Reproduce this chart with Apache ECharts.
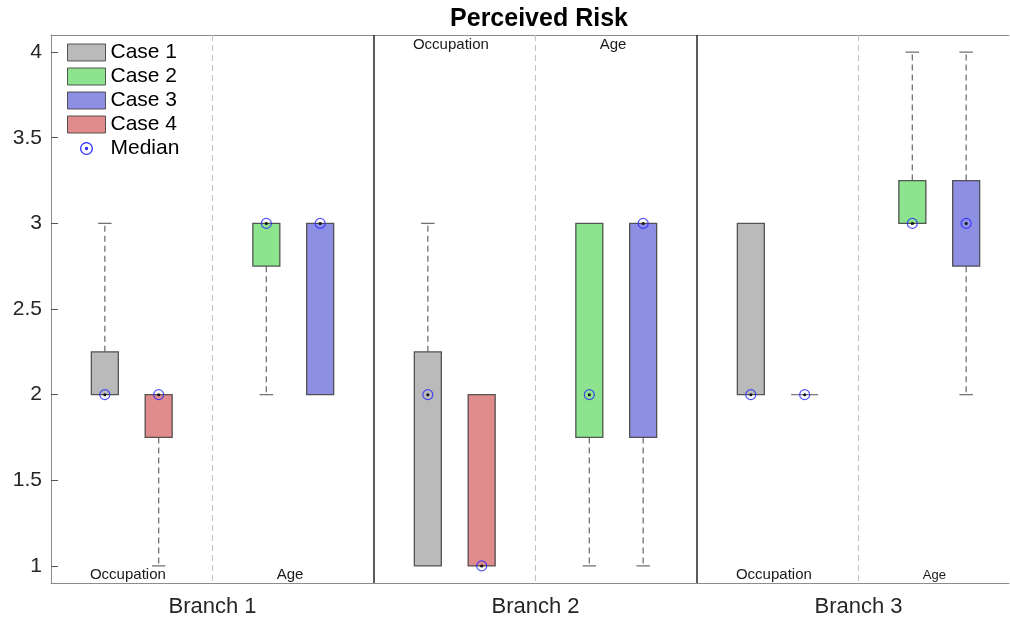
<!DOCTYPE html>
<html>
<head>
<meta charset="utf-8">
<script src="https://cdn.jsdelivr.net/npm/echarts@6/dist/echarts.min.js"></script>
<style>
  html, body { margin: 0; padding: 0; background: #fff; }
  #chart { width: 1010px; height: 621px; }
</style>
</head>
<body>
<div id="chart"></div>
<script>
// Branch names along the x axis and the two groupings inside each branch
const branches = ['Branch 1', 'Branch 2', 'Branch 3'];
const groupLabels = ['Occupation', 'Age'];
const yTicks = [1, 1.5, 2, 2.5, 3, 3.5, 4];

// Box statistics per branch: [min, q1, median, q3, max]
const case1 = [[2, 2, 2, 2.25, 3], [1, 1, 2, 2.25, 3], [2, 2, 2, 3, 3]];       // Occupation
const case4 = [[1, 1.75, 2, 2, 2], [1, 1, 1, 2, 2], [2, 2, 2, 2, 2]];          // Occupation
const case2 = [[2, 2.75, 3, 3, 3], [1, 1.75, 2, 3, 3], [3, 3, 3, 3.25, 4]];    // Age
const case3 = [[2, 2, 3, 3, 3], [1, 1.75, 3, 3, 3], [2, 2.75, 3, 3.25, 4]];    // Age

const FONT = '"Liberation Sans", Arial, Helvetica, sans-serif';
const BOX_W = 0.0836;          // box width in x-axis units
const EDGE = 'rgba(65,65,65,0.88)';
const WHISKER = 'rgba(90,90,90,0.85)';
// axes box runs past the right edge of the canvas: 323 px per branch
const GRID_LEFT = 51, GRID_W = 958, BRANCH_PX = 323;
const X_MIN = 0.5, X_MAX = X_MIN + GRID_W / BRANCH_PX;

// slot of each case inside a branch (left half: Occupation, right half: Age)
const cases = [
  { name: 'Case 1', values: case1, offset: -1 / 3, color: '#bababa' },
  { name: 'Case 2', values: case2, offset: 1 / 6, color: '#8ee38e' },
  { name: 'Case 3', values: case3, offset: 1 / 3, color: '#8e8ee3' },
  { name: 'Case 4', values: case4, offset: -1 / 6, color: '#e08c8c' }
];

function boxSeries(c) {
  return {
    type: 'custom',
    name: c.name,
    coordinateSystem: 'cartesian2d',
    itemStyle: { color: c.color, borderColor: EDGE, borderWidth: 1 },
    encode: { x: 0, y: [1, 2, 3, 4, 5] },
    data: c.values.map((v, i) => [i + 1 + c.offset].concat(v)),
    z: 3,
    renderItem(params, api) {
      const x = api.value(0);
      const mn = api.value(1), q1 = api.value(2), q3 = api.value(4), mx = api.value(5);
      const half = api.size([BOX_W, 0])[0] / 2;
      const cap = half / 2;
      const pMin = api.coord([x, mn]);
      const pQ1 = api.coord([x, q1]);
      const pQ3 = api.coord([x, q3]);
      const pMax = api.coord([x, mx]);
      const cx = pQ1[0];
      const children = [];
      const dashStyle = { stroke: WHISKER, lineWidth: 1.3, lineDash: [6, 4] };
      const capStyle = { stroke: WHISKER, lineWidth: 1.3 };
      if (mx > q3) {
        children.push({ type: 'line', shape: { x1: cx, y1: pQ3[1], x2: cx, y2: pMax[1] }, style: dashStyle });
        children.push({ type: 'line', shape: { x1: cx - cap, y1: pMax[1], x2: cx + cap, y2: pMax[1] }, style: capStyle });
      }
      if (mn < q1) {
        children.push({ type: 'line', shape: { x1: cx, y1: pQ1[1], x2: cx, y2: pMin[1] }, style: dashStyle });
        children.push({ type: 'line', shape: { x1: cx - cap, y1: pMin[1], x2: cx + cap, y2: pMin[1] }, style: capStyle });
      }
      if (q3 > q1) {
        children.push({
          type: 'rect',
          shape: { x: cx - half, y: pQ3[1], width: half * 2, height: pQ1[1] - pQ3[1] },
          style: { fill: c.color, stroke: EDGE, lineWidth: 1.3 }
        });
      } else {
        children.push({ type: 'line', shape: { x1: cx - half, y1: pQ1[1], x2: cx + half, y2: pQ1[1] }, style: { stroke: 'rgba(110,110,110,0.9)', lineWidth: 1.3 } });
      }
      return { type: 'group', children };
    }
  };
}

// median markers for every box
const medianData = [];
cases.forEach(c => c.values.forEach((v, i) => medianData.push([i + 1 + c.offset, v[2]])));

const medianSeries = {
  type: 'custom',
  name: 'Median',
  coordinateSystem: 'cartesian2d',
  itemStyle: { color: '#2b2bff' },
  encode: { x: 0, y: 1 },
  data: medianData,
  z: 5,
  renderItem(params, api) {
    const p = api.coord([api.value(0), api.value(1)]);
    return {
      type: 'group',
      children: [
        { type: 'circle', shape: { cx: p[0], cy: p[1], r: 5 }, style: { fill: 'none', stroke: 'rgba(40,40,255,0.8)', lineWidth: 1.2 } },
        { type: 'circle', shape: { cx: p[0], cy: p[1], r: 1.5 }, style: { fill: '#111' } }
      ]
    };
  }
};

// branch separators (solid) and group separators (dashed)
const separatorSeries = {
  type: 'custom',
  name: 'separators',
  coordinateSystem: 'cartesian2d',
  data: [[1, 0], [1.5, 1], [2, 0], [2.5, 1], [3, 0]],
  encode: { x: 0 },
  silent: true,
  z: 1,
  renderItem(params, api) {
    const cs = params.coordSys;
    const x = api.coord([api.value(0), 1])[0];
    const solid = api.value(1) === 1;
    return {
      type: 'line',
      shape: { x1: x, y1: cs.y, x2: x, y2: cs.y + cs.height },
      style: solid
        ? { stroke: '#333', lineWidth: 1.6 }
        : { stroke: '#c4c4c4', lineWidth: 1.1, lineDash: [6, 4] }
    };
  }
};

// "Occupation" / "Age" captions: bottom in branches 1 and 3, top in branch 2
const captionSeries = {
  type: 'custom',
  name: 'captions',
  coordinateSystem: 'cartesian2d',
  data: [
    [0.738, 0, 0, 15], [1.24, 1, 0, 15],
    [1.738, 0, 1, 15], [2.24, 1, 1, 15],
    [2.738, 0, 0, 15], [3.235, 1, 0, 13]
  ],
  encode: { x: 0 },
  silent: true,
  z: 4,
  renderItem(params, api) {
    const cs = params.coordSys;
    const x = api.coord([api.value(0), 1])[0];
    const top = api.value(2) === 1;
    return {
      type: 'text',
      style: {
        text: groupLabels[api.value(1)],
        x: x,
        y: top ? cs.y + 10 : cs.y + cs.height - 8,
        align: 'center',
        verticalAlign: 'middle',
        fontSize: api.value(3),
        fontFamily: FONT,
        fill: '#1a1a1a'
      }
    };
  }
};

const medianIcon = 'path://M-19,-8.5L-19,-8.5M19,8.5L19,8.5' +
  'M0,-6.5A6.5,6.5 0 1,1 0,6.5A6.5,6.5 0 1,1 0,-6.5Z' +
  'M0,-5.2A5.2,5.2 0 1,0 0,5.2A5.2,5.2 0 1,0 0,-5.2Z' +
  'M0,-1.7A1.7,1.7 0 1,1 0,1.7A1.7,1.7 0 1,1 0,-1.7Z';

const chart = echarts.init(document.getElementById('chart'), null, { renderer: 'canvas' });
chart.setOption({
  animation: false,
  backgroundColor: '#fff',
  title: {
    text: 'Perceived Risk',
    left: 534,
    top: 2,
    textAlign: 'center',
    textStyle: { fontFamily: FONT, fontSize: 25, fontWeight: 'bold', color: '#000' }
  },
  legend: {
    orient: 'vertical',
    left: 67,
    top: 42,
    padding: 0,
    itemWidth: 38,
    itemHeight: 17,
    itemGap: 3,
    textStyle: { fontFamily: FONT, fontSize: 21, color: '#000', lineHeight: 20 },
    data: [
      { name: 'Case 1', icon: 'rect', itemStyle: { color: '#bababa', borderColor: EDGE, borderWidth: 1 } },
      { name: 'Case 2', icon: 'rect', itemStyle: { color: '#8ee38e', borderColor: EDGE, borderWidth: 1 } },
      { name: 'Case 3', icon: 'rect', itemStyle: { color: '#8e8ee3', borderColor: EDGE, borderWidth: 1 } },
      { name: 'Case 4', icon: 'rect', itemStyle: { color: '#e08c8c', borderColor: EDGE, borderWidth: 1 } },
      { name: 'Median', icon: medianIcon, itemStyle: { color: '#2b2bff', borderWidth: 0 } }
    ],
    selectedMode: false
  },
  grid: {
    left: GRID_LEFT, top: 35, width: GRID_W, bottom: 38,
    show: false,
    containLabel: false
  },
  xAxis: [{
    type: 'value',
    min: X_MIN, max: X_MAX,
    splitLine: { show: false },
    axisLine: { show: true, lineStyle: { color: '#8c8c8c' } },
    axisTick: { show: false },
    axisLabel: {
      customValues: [1, 2, 3],
      formatter: v => branches[Math.round(v) - 1],
      fontFamily: FONT, fontSize: 22, color: '#262626', margin: 13
    }
  }, {
    // top border of the axes box
    type: 'value',
    position: 'top',
    min: X_MIN, max: X_MAX,
    splitLine: { show: false },
    axisLine: { show: true, lineStyle: { color: '#8c8c8c' } },
    axisTick: { show: false },
    axisLabel: { show: false }
  }],
  yAxis: {
    type: 'value',
    min: 0.9, max: 4.1,
    splitLine: { show: false },
    axisLine: { show: true, lineStyle: { color: '#8c8c8c' } },
    axisTick: { show: true, inside: true, length: 7, customValues: yTicks, lineStyle: { color: '#555' } },
    axisLabel: {
      customValues: yTicks,
      fontFamily: FONT, fontSize: 21, color: '#262626', margin: 9
    }
  },
  series: [separatorSeries, captionSeries]
    .concat(cases.map(boxSeries))
    .concat([medianSeries])
});
</script>
</body>
</html>
